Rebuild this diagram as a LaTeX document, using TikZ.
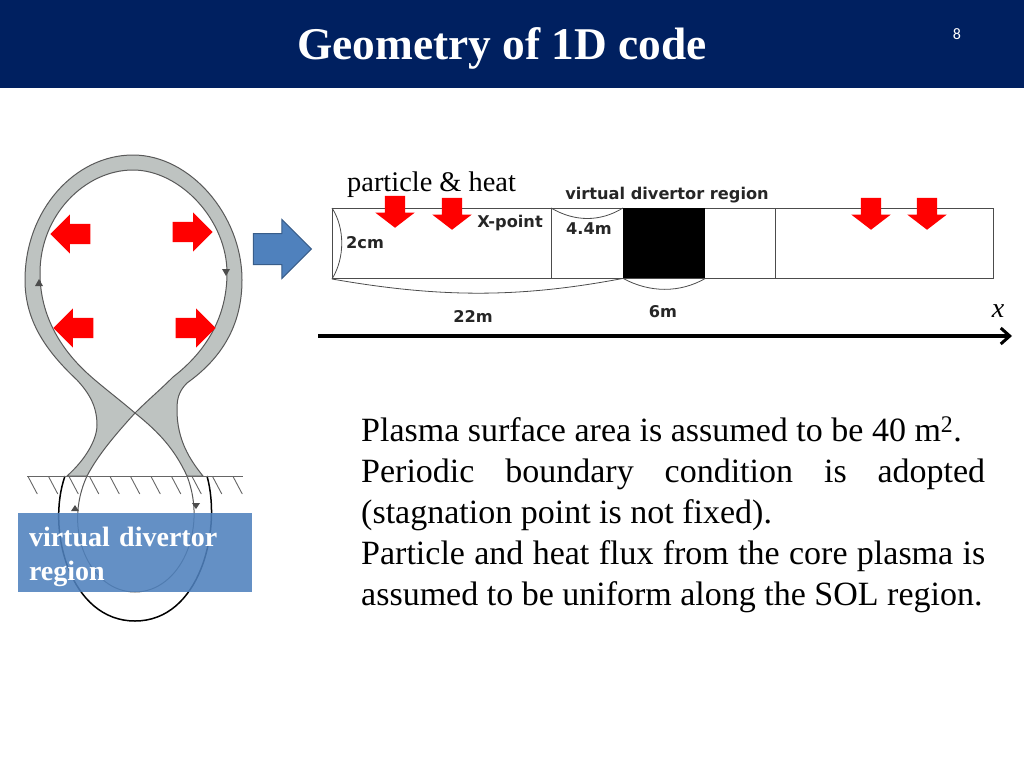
\documentclass[tikz,border=0pt]{standalone}
\usepackage{fontspec}
\setmainfont{Liberation Serif}
\newfontfamily\labelfont{DejaVu Sans}
\newfontfamily\pagefont{Carlito}
\usetikzlibrary{
  arrows.meta,
  shapes.arrows,
  positioning
}
\definecolor{titleblue}{HTML}{002060}
\definecolor{boxblue}{HTML}{4F81BD}
\definecolor{boxedge}{HTML}{385D8A}
\definecolor{plasmagray}{HTML}{BEC3C1}

\begin{document}
\begin{tikzpicture}[
      x=1pt,y=-1pt,
      flux/.style={
         single arrow,
         draw=none,
         fill=red,
         inner sep=10pt,
         minimum height=40pt,
         single arrow head extend=9.5pt,
         single arrow head indent=0pt,
         shape border rotate=#1,
         anchor=tip
      },
      downflux/.style={
         flux=270,
         minimum height=32pt,
         single arrow tip angle=105
      },
      dimlabel/.style={
         font=\labelfont\bfseries\fontsize{16.2}{20}\selectfont,
         text=black!85,
         inner sep=0pt
      },
      brace/.style={draw=black!70,line width=0.8pt},
      strip/.style={draw=black!70,line width=1pt},
      flowtip/.style={fill=black!70},
      hatch/.style={draw=black!60,line width=0.9pt},
    ]
    \useasboundingbox (0,0) rectangle (1024,768);
    % title band
    \node (band) [fill=titleblue,minimum width=1024pt,minimum height=88pt,inner sep=0pt,anchor=north west] at (0,0) {};
    \node (title) [text=white,font=\bfseries\fontsize{45.4}{50}\selectfont,inner sep=0pt] at (502,48) {Geometry of 1D code};
    \node (pagenr) [text=white,font=\pagefont\fontsize{16}{18}\selectfont,inner sep=0pt] at (957,34) {8};
    % plasma band
    \draw[fill=plasmagray,draw=black!65,line width=1pt,even odd rule]
       (67,476) .. controls (85,460) and (97,440) .. (97,425)
       .. controls (97,405) and (88,392) .. (77,380)
       .. controls (45,350) and (25,320) .. (25,280)
       .. controls (25,210) and (75,155) .. (133,155)
       .. controls (190,155) and (242,215) .. (242,280)
       .. controls (242,325) and (222,358) .. (187,383)
       .. controls (178,392) and (177,400) .. (177,410)
       .. controls (177,440) and (190,460) .. (203,476)
       -- (187,476)
       .. controls (175,450) and (160,433) .. (135,413)
       .. controls (120,400) and (100,385) .. (87,373)
       .. controls (60,348) and (40,315) .. (40,273)
       .. controls (40,215) and (85,170) .. (133,170)
       .. controls (180,170) and (227,220) .. (227,273)
       .. controls (227,315) and (208,350) .. (173,377)
       .. controls (160,390) and (148,400) .. (135,413)
       .. controls (115,435) and (98,455) .. (87,476) -- cycle;
    % divertor legs
    \draw[draw=black!65,line width=1pt] (87,476) .. controls (62,530) and (90,592) .. (135,592)
       .. controls (180,592) and (208,530) .. (187,476);
    \draw[draw=black,line width=1.5pt] (65,476) .. controls (46,530) and (70,621) .. (135,621)
       .. controls (200,621) and (222,530) .. (207,476);
    % wall
    \node (wallw) [coordinate] at (27,476) {};
    \node (walle) [coordinate] at (243,476) {};
    \draw[hatch] (wallw) -- (walle);
    \foreach \i in {0,...,10} {
       \draw[hatch] (28.3+\i*20.5,477) -- ++(9,17);
    }
    \fill[flowtip] (39,279) -- (43,286) -- (35,286) -- cycle;
    \fill[flowtip] (226,276) -- (222,269) -- (230,269) -- cycle;
    \fill[flowtip] (75,505) -- (79,511) -- (71,511) -- cycle;
    \fill[flowtip] (196,509) -- (192,503) -- (200,503) -- cycle;
    % outward flux
    \node (fl1) [flux=180] at (50,234) {};
    \node (fl2) [flux=0] at (213,232) {};
    \node (fl3) [flux=180] at (53,328) {};
    \node (fl4) [flux=0] at (216,328) {};
    \node (vdrbox) [fill=boxblue,fill opacity=0.88,minimum width=234pt,minimum height=79pt,inner sep=0pt] at (135,552.5) {};
    \node (vdrtext) [text=white,text width=212pt,inner sep=0pt,align=left,
       font=\bfseries\fontsize{28}{34}\selectfont] at (135,557) {virtual divertor\\region};
    % big arrow
    \node (bigarrow) [single arrow,draw=boxedge,line width=1pt,fill=boxblue,inner sep=15pt,minimum height=58pt,
       single arrow head extend=14pt,single arrow head indent=0pt,anchor=tip] at (312,249) {};
    % strip
    \node (stripbox) [strip,minimum width=661pt,minimum height=70pt,inner sep=0pt,anchor=north west] at (332,208) {};
    \node (vdrblack) [fill=black,minimum width=82pt,minimum height=70pt,inner sep=0pt,anchor=north west] at (623,208) {};
    \coordinate (xpt) at (551,208);
    \coordinate (xptb) at (551,278);
    \coordinate (sep) at (775,208);
    \coordinate (sepb) at (775,278);
    \draw[strip] (xpt) -- (xptb);
    \draw[strip] (sep) -- (sepb);
    \draw[brace] (stripbox.north west) .. controls (345,228) and (345,258) .. (stripbox.south west);
    \draw[brace] (xpt) .. controls (575,222) and (600,222) .. (vdrblack.north west);
    \draw[brace] (stripbox.south west) .. controls (440,298) and (520,298) .. (vdrblack.south west);
    \draw[brace] (vdrblack.south west) .. controls (650,293) and (680,293) .. (vdrblack.south east);
    \node (heat) [font=\fontsize{28.4}{32}\selectfont,inner sep=0pt,anchor=base west] at (347,191) {particle \& heat};
    \node (dfa) [downflux] at (395,228) {};
    \node (dfb) [downflux] at (452,230) {};
    \node (dfc) [downflux] at (871,230) {};
    \node (dfd) [downflux] at (927,230) {};
    \node (vdrlabel) [dimlabel] at (667,195) {virtual divertor region};
    \node (xlabel) [dimlabel] at (510,223) {X-point};
    \node (twocm) [dimlabel] at (365,243) {2cm};
    \node (fourm) [dimlabel] at (589,229) {4.4m};
    \node (twentytwo) [dimlabel] at (473,316) {22m};
    \node (sixm) [dimlabel] at (663,312) {6m};
    % axis
    \coordinate (axl) at (318,336);
    \coordinate (axr) at (1012,336);
    \draw[line width=3.2pt,-{Straight Barb[length=9pt,width=16pt,line width=3pt]}] (axl) -- (axr);
    \node (axname) [font=\itshape\fontsize{28}{32}\selectfont,inner sep=0pt] at (998,311) {x};
    % text
    \node (bodytext) [anchor=north west,inner sep=0pt,text width=624pt,align=justify,
       font=\fontsize{34}{41}\selectfont] at (361,417) {%
       Plasma surface area is assumed to be 40 m\textsuperscript{2}.\\
       Periodic boundary condition is adopted\linebreak (stagnation point is not fixed).\\
       Particle and heat flux from the core plasma is\linebreak assumed to be uniform along the SOL region.};
\end{tikzpicture}
\end{document}
